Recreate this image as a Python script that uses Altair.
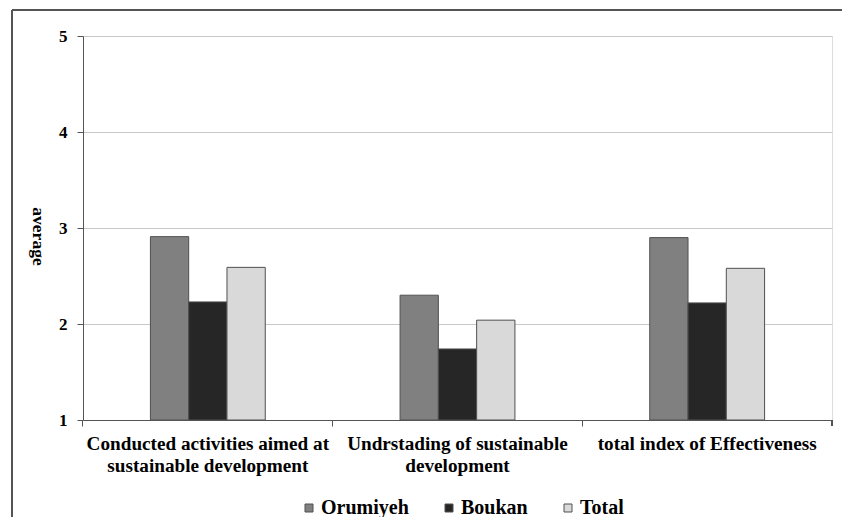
import altair as alt
import pandas as pd

categories = [
    "Conducted activities aimed at|sustainable development",
    "Undrstading of sustainable|development",
    "total index of Effectiveness",
]
series = ["Orumiyeh", "Boukan", "Total"]
orumiyeh = [2.91, 2.30, 2.90]
boukan = [2.23, 1.74, 2.22]
total = [2.59, 2.04, 2.58]
colors = ["#808080", "#262626", "#d9d9d9"]
y_ticks = [1, 2, 3, 4, 5]

rows = []
for i, c in enumerate(categories):
    for s, vals in zip(series, [orumiyeh, boukan, total]):
        rows.append({"category": c, "series": s, "value": vals[i]})
df = pd.DataFrame(rows)

FONT = "Liberation Serif"
W, H = 749, 384

bars = alt.Chart(df).mark_bar(stroke="#505050", strokeWidth=1, clip=True).encode(
    x=alt.X("category:N", sort=categories, title=None,
            scale=alt.Scale(paddingInner=0.54, paddingOuter=0.27),
            axis=alt.Axis(labelExpr="split(datum.label, '|')", labelAngle=0,
                          labelFont=FONT, labelFontSize=19.2, labelFontWeight="bold",
                          labelColor="black", labelPadding=8, labelLineHeight=22,
                          bandPosition=-0.587, tickSize=6, tickColor="#555555",
                          domainColor="#555555", grid=False, labelLimit=320)),
    xOffset=alt.XOffset("series:N", sort=series,
                        scale=alt.Scale(paddingInner=0, paddingOuter=0)),
    y=alt.Y("value:Q", title="average",
            scale=alt.Scale(domain=[1, 5], nice=False, zero=False),
            axis=alt.Axis(values=y_ticks, format="d", labelFont=FONT, labelFontSize=17,
                          labelFontWeight="bold", labelColor="black", labelPadding=10,
                          tickSize=6, tickColor="#555555", domainColor="#555555",
                          gridColor="#c8c8c8", titleFont=FONT, titleFontSize=17.5,
                          titleFontWeight="bold", titleAngle=90, titlePadding=30,
                          titleY=200, titleColor="black")),
    y2=alt.Y2(datum=1),
    fill=alt.Fill("series:N", sort=series,
                  scale=alt.Scale(domain=series, range=colors),
                  legend=alt.Legend(title=None, orient="none", direction="horizontal",
                                    legendX=216, legendY=462, symbolType="square",
                                    symbolSize=64, symbolStrokeColor="#505050",
                                    symbolStrokeWidth=1, labelFont=FONT,
                                    labelFontSize=20, labelFontWeight="bold",
                                    labelColor="black", columnPadding=30,
                                    labelOffset=2, labelLimit=200)),
)

last_tick = alt.Chart(df).mark_rule(color="#555555").encode(
    x=alt.value(W), y=alt.value(H), y2=alt.value(H + 6)
)

frame_left = alt.Chart(df).mark_rule(color="#555555", strokeWidth=1.5, clip=False).encode(
    x=alt.value(-71), y=alt.value(-26), y2=alt.value(H + 120)
)
frame_top = alt.Chart(df).mark_rule(color="#555555", strokeWidth=1.5, clip=False).encode(
    x=alt.value(-71), x2=alt.value(W + 40), y=alt.value(-26)
)

chart = alt.layer(bars, last_tick, frame_left, frame_top).properties(
    width=W, height=H,
    autosize=alt.AutoSizeParams(type="none"),
    padding={"left": 75, "top": 28, "right": 10, "bottom": 97},
).configure_view(stroke="#aaaaaa", strokeWidth=1).configure(background="white")

chart.save("out.html", embed_options={"renderer": "svg", "actions": False})
